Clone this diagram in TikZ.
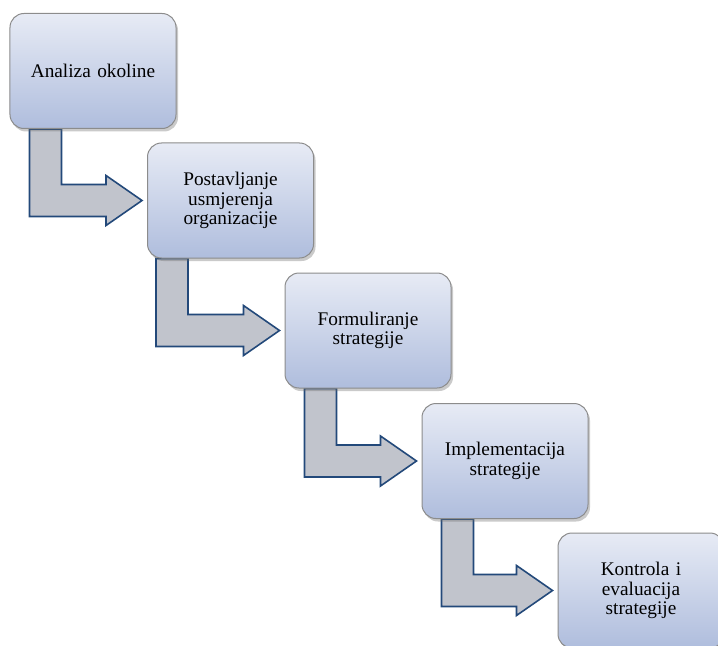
\documentclass[tikz,border=0pt]{standalone}
\usepackage{fontspec}
\setmainfont{Liberation Serif}
\usetikzlibrary{shadows,calc}
\pgfdeclarelayer{background}
\pgfsetlayers{background,main}
\definecolor{boxtop}{HTML}{E7EBF5}
\definecolor{boxbot}{HTML}{AFBDDD}
\definecolor{boxline}{HTML}{8C8C8C}
\definecolor{arrfill}{HTML}{C1C4CC}
\definecolor{arrline}{HTML}{23497A}
\tikzset{
  stagebox/.style={rectangle, rounded corners=14bp, draw=boxline, line width=1bp,
    top color=boxtop, bottom color=boxbot, minimum width=166bp, minimum height=115bp,
    inner sep=0pt, text width=150bp, align=center,
    font=\fontsize{19.3bp}{19.6bp}\selectfont,
    drop shadow={shadow xshift=2bp, shadow yshift=-3bp, opacity=0.35, fill=black!60}},
  bentarrow/.style={fill=arrfill, draw=arrline, line width=1.6bp, line join=miter}
}
\newcommand\flowarrow[3]{%
  \path let \p1=(#1.south west), \p2=(#2.west) in
    [bentarrow] (\x1+#3bp,\y1) -- (\x1+#3bp+32bp,\y1) -- (\x1+#3bp+32bp,\y2+16bp)
    -- (\x2-41bp,\y2+16bp) -- (\x2-41bp,\y2+25bp) -- (\x2-5bp,\y2)
    -- (\x2-41bp,\y2-25bp) -- (\x2-41bp,\y2-16bp) -- (\x1+#3bp,\y2-16bp) -- cycle;}
\begin{document}
\begin{tikzpicture}[x=1bp,y=-1bp]
\useasboundingbox (0,0) rectangle (718,646);
\clip (0,0) rectangle (718,646);
\node[stagebox] (s1) at (93,71) {Analiza okoline};
\node[stagebox] (s2) at (230.5,200.5) {Postavljanje\\usmjerenja\\organizacije};
\node[stagebox] (s3) at (368,330.5) {Formuliranje\\strategije};
\node[stagebox] (s4) at (505,461) {Implementacija\\strategije};
\node[stagebox] (s5) at (641,590.5) {Kontrola i\\evaluacija\\strategije};
\begin{pgfonlayer}{background}
\flowarrow{s1}{s2}{20}
\flowarrow{s2}{s3}{9}
\flowarrow{s3}{s4}{20}
\flowarrow{s4}{s5}{20}
\end{pgfonlayer}
\end{tikzpicture}
\end{document}
